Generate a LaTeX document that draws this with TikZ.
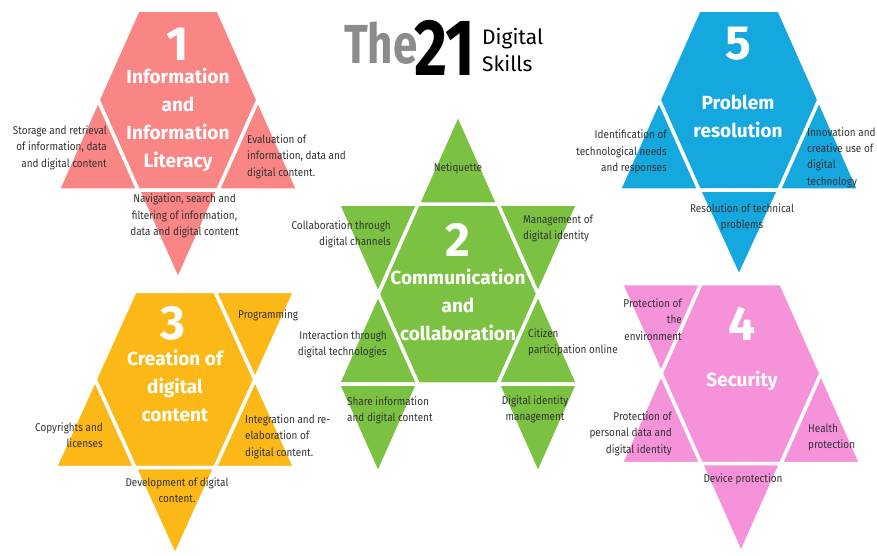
\documentclass[tikz,border=0pt]{standalone}
\usepackage{fontspec}
\setmainfont{Fira Sans}
\newfontfamily\titlefont[FakeStretch=0.8]{Fira Sans}
\newfontfamily\skillfont[FakeStretch=0.88]{Fira Sans}
\definecolor{infored}{HTML}{F98585}
\definecolor{commgreen}{HTML}{7CC242}
\definecolor{creayellow}{HTML}{FBB817}
\definecolor{secpink}{HTML}{F592DA}
\definecolor{probblue}{HTML}{14A8DF}
\definecolor{titlegray}{HTML}{8C8C8C}
\definecolor{skilltext}{HTML}{333333}
\begin{document}
\begin{tikzpicture}[x=1pt, y=-1pt,
    piece/.style={draw=white, line width=3.5pt, line join=miter},
    skill/.style={font=\skillfont\fontsize{11.3}{16.3}\selectfont, text=skilltext, inner sep=0pt},
    areatitle/.style={font=\fontsize{19}{28}\selectfont\bfseries, text=white, align=center, inner sep=0pt},
    bignum/.style={font=\fontsize{48}{48}\selectfont\bfseries, text=white, inner sep=0pt}]
    \fill[white] (0,0) rectangle (877,555);
    \useasboundingbox (0,0) rectangle (877,555);

    % 1 information and information literacy
    \begin{scope}[shift={(178,100)}]
        \draw[piece, fill=infored] (-40,-90) -- (40,-90) -- (80,0) -- (40,90) -- (-40,90) -- (-80,0) -- cycle;
        \draw[piece, fill=infored] (-80,0) -- (-40,90) -- (-120,90) -- cycle;
        \draw[piece, fill=infored] (80,0) -- (120,90) -- (40,90) -- cycle;
        \draw[piece, fill=infored] (-40,90) -- (40,90) -- (0,180) -- cycle;
    \end{scope}

    % 2 communication and collaboration
    \begin{scope}[shift={(458,294)}]
        \draw[piece, fill=commgreen] (-40,-90) -- (40,-90) -- (80,0) -- (40,90) -- (-40,90) -- (-80,0) -- cycle;
        \draw[piece, fill=commgreen] (-40,-90) -- (0,-180) -- (40,-90) -- cycle;
        \draw[piece, fill=commgreen] (-120,-90) -- (-40,-90) -- (-80,0) -- cycle;
        \draw[piece, fill=commgreen] (40,-90) -- (120,-90) -- (80,0) -- cycle;
        \draw[piece, fill=commgreen] (-80,0) -- (-40,90) -- (-120,90) -- cycle;
        \draw[piece, fill=commgreen] (80,0) -- (120,90) -- (40,90) -- cycle;
        \draw[piece, fill=commgreen] (-120,90) -- (-40,90) -- (-80,180) -- cycle;
        \draw[piece, fill=commgreen] (40,90) -- (120,90) -- (80,180) -- cycle;
    \end{scope}

    % 3 creation of digital content
    \begin{scope}[shift={(175,379.5)}, yscale=0.98]
        \draw[piece, fill=creayellow] (-40,-90) -- (40,-90) -- (80,0) -- (40,90) -- (-40,90) -- (-80,0) -- cycle;
        \draw[piece, fill=creayellow] (40,-90) -- (120,-90) -- (80,0) -- cycle;
        \draw[piece, fill=creayellow] (-80,0) -- (-40,90) -- (-120,90) -- cycle;
        \draw[piece, fill=creayellow] (80,0) -- (120,90) -- (40,90) -- cycle;
        \draw[piece, fill=creayellow] (-40,90) -- (40,90) -- (0,180) -- cycle;
    \end{scope}

    % 4 security
    \begin{scope}[shift={(741,373.5)}]
        \draw[piece, fill=secpink] (-40,-90) -- (40,-90) -- (80,0) -- (40,90) -- (-40,90) -- (-80,0) -- cycle;
        \draw[piece, fill=secpink] (-120,-90) -- (-40,-90) -- (-80,0) -- cycle;
        \draw[piece, fill=secpink] (-80,0) -- (-40,90) -- (-120,90) -- cycle;
        \draw[piece, fill=secpink] (80,0) -- (120,90) -- (40,90) -- cycle;
        \draw[piece, fill=secpink] (-40,90) -- (40,90) -- (0,180) -- cycle;
    \end{scope}

    % 5 problem resolution
    \begin{scope}[shift={(739,100)}]
        \draw[piece, fill=probblue] (-40,-90) -- (40,-90) -- (80,0) -- (40,90) -- (-40,90) -- (-80,0) -- cycle;
        \draw[piece, fill=probblue] (-80,0) -- (-40,90) -- (-120,90) -- cycle;
        \draw[piece, fill=probblue] (80,0) -- (120,90) -- (40,90) -- cycle;
        \draw[piece, fill=probblue] (-40,90) -- (40,90) -- (0,177) -- cycle;
    \end{scope}

    % title
    \node[anchor=base west, inner sep=0pt, text=titlegray, font=\titlefont\fontsize{55}{55}\selectfont\bfseries] (the) at (344,63) {The};
    \node[anchor=base west, inner sep=0pt, font=\titlefont\fontsize{80}{80}\selectfont\bfseries] (twentyone) at (414,75) {21};
    \node[anchor=base west, inner sep=0pt, align=left, font=\fontsize{21}{27}\selectfont] (digskills) at (482,71) {Digital\\Skills};

    % labels 1
    \node[bignum] (info-num) at (178,44) {1};
    \node[areatitle] (info-title) at (178,120) {Information\\and\\Information\\Literacy};
    \node[skill, anchor=east, align=right] (info-storage) at (107,147.5) {Storage and retrieval\\of information, data\\and digital content};
    \node[skill, anchor=west, align=left] (info-eval) at (247,156.5) {Evaluation of\\information, data and\\digital content.};
    \node[skill, align=center] (info-nav) at (184.5,216) {Navigation, search and\\filtering of information,\\data and digital content};

    % labels 2
    \node[bignum] (comm-num) at (458,239.5) {2};
    \node[areatitle] (comm-title) at (458,304.5) {Communication\\and\\collaboration};
    \node[skill] (comm-net) at (458,168) {Netiquette};
    \node[skill, anchor=east, align=right] (comm-collab) at (391,234) {Collaboration through\\digital channels};
    \node[skill, anchor=west, align=left] (comm-manage) at (523,228.5) {Management of\\digital identity};
    \node[skill, anchor=east, align=right] (comm-interact) at (387,344) {Interaction through\\digital technologies};
    \node[skill, anchor=west, align=left] (comm-citizen) at (528,342) {Citizen\\participation online};
    \node[skill, anchor=west, align=left] (comm-share) at (347,410.5) {Share information\\and digital content};
    \node[skill, align=center] (comm-identity) at (535,409) {Digital identity\\management};

    % labels 3
    \node[bignum] (crea-num) at (173,323.5) {3};
    \node[areatitle] (crea-title) at (175,386) {Creation of\\digital\\content};
    \node[skill, anchor=west] (crea-prog) at (238,315) {Programming};
    \node[skill, anchor=east, align=right] (crea-copy) at (103,435) {Copyrights and\\licenses};
    \node[skill, anchor=west, align=left] (crea-integ) at (245,436.5) {Integration and re-\\elaboration of\\digital content.};
    \node[skill, align=center] (crea-dev) at (177,490) {Development of digital\\content.};

    % labels 4
    \node[bignum] (sec-num) at (742,323.5) {4};
    \node[areatitle] (sec-title) at (742,381) {Security};
    \node[skill, anchor=east, align=right] (sec-env) at (682,319.5) {Protection of\\the\\environment};
    \node[skill, anchor=east, align=right] (sec-data) at (672,433.5) {Protection of\\personal data and\\digital identity};
    \node[skill, anchor=west, align=left] (sec-health) at (808,437.5) {Health\\protection};
    \node[skill] (sec-device) at (743,479) {Device protection};

    % labels 5
    \node[bignum] (prob-num) at (738,44) {5};
    \node[areatitle] (prob-title) at (738,116.5) {Problem\\resolution};
    \node[skill, anchor=east, align=right] (prob-ident) at (667,152) {Identification of\\technological needs\\and responses};
    \node[skill, anchor=west, align=left] (prob-innov) at (807,157.5) {Innovation and\\creative use of\\digital\\technology};
    \node[skill, align=center] (prob-resol) at (742,217) {Resolution of technical\\problems};
\end{tikzpicture}
\end{document}
